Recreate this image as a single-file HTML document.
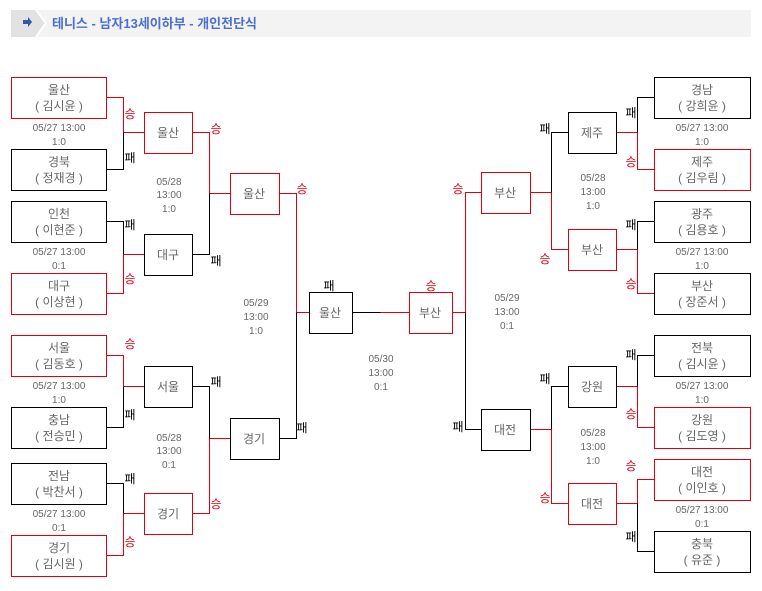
<!DOCTYPE html>
<html><head><meta charset="utf-8"><style>
body{margin:0;background:#fff;width:762px;height:586px;overflow:hidden}
svg text{font-family:"Liberation Sans","Noto Sans CJK KR",sans-serif}
</style></head><body>
<svg width="762" height="586" xmlns="http://www.w3.org/2000/svg">
<rect x="11" y="10" width="740" height="27" fill="#f3f3f3"/>
<path d="M11 10 H36 L46 23 L36 37 H11 Z" fill="#e2e2e2"/>
<path d="M36 10 L46 23 L36 37" fill="none" stroke="#fff" stroke-width="2"/>
<path d="M23 20 h5 v-3 l4 5 l-4 5 v-3 h-5z" fill="#3355aa"/>
<text x="52" y="28" font-size="13" font-weight="bold" fill="#4a6fd0">테니스 - 남자13세이하부 - 개인전단식</text>

<g transform="translate(0.5,0.5)" shape-rendering="crispEdges">
<g fill="none" stroke-width="1">
<g stroke="#e00010">
<polyline points="106,97 123,97 123,132 144,132"/>
<polyline points="106,293 123,293 123,254 144,254"/>
<polyline points="106,355 123,355 123,386 144,386"/>
<polyline points="106,555 123,555 123,513 144,513"/>
<polyline points="192,132 209,132 209,193 230,193"/>
<polyline points="192,513 209,513 209,438 230,438"/>
<polyline points="279,193 296,193 296,312 309,312"/>
<polyline points="654,169 637,169 637,132 616,132"/>
<polyline points="654,293 637,293 637,249 616,249"/>
<polyline points="654,427 637,427 637,386 616,386"/>
<polyline points="654,479 637,479 637,503 616,503"/>
<polyline points="568,249 551,249 551,192 530,192"/>
<polyline points="568,503 551,503 551,429 530,429"/>
<polyline points="481,192 465,192 465,312 452,312"/>
<line x1="380" y1="312" x2="409" y2="312"/>
</g>
<g stroke="#000">
<polyline points="106,169 123,169 123,132"/>
<polyline points="106,221 123,221 123,254"/>
<polyline points="106,427 123,427 123,386"/>
<polyline points="106,483 123,483 123,513"/>
<polyline points="192,254 209,254 209,193"/>
<polyline points="192,386 209,386 209,438"/>
<polyline points="279,438 296,438 296,312"/>
<polyline points="654,97 637,97 637,132"/>
<polyline points="654,221 637,221 637,249"/>
<polyline points="654,355 637,355 637,386"/>
<polyline points="654,551 637,551 637,503"/>
<polyline points="568,132 551,132 551,192"/>
<polyline points="568,386 551,386 551,429"/>
<polyline points="481,429 465,429 465,312"/>
<line x1="352" y1="312" x2="380" y2="312"/>
</g>
</g>

<g stroke-width="1" fill="#fff">
<rect x="11" y="77" width="95" height="41" stroke="#e00010"/>
<rect x="11" y="149" width="95" height="41" stroke="#000"/>
<rect x="11" y="201" width="95" height="41" stroke="#000"/>
<rect x="11" y="273" width="95" height="41" stroke="#e00010"/>
<rect x="11" y="335" width="95" height="41" stroke="#e00010"/>
<rect x="11" y="407" width="95" height="41" stroke="#000"/>
<rect x="11" y="463" width="95" height="41" stroke="#000"/>
<rect x="11" y="535" width="95" height="41" stroke="#e00010"/>
<rect x="144" y="112" width="48" height="41" stroke="#e00010"/>
<rect x="144" y="234" width="48" height="41" stroke="#000"/>
<rect x="144" y="366" width="48" height="41" stroke="#000"/>
<rect x="144" y="493" width="48" height="41" stroke="#e00010"/>
<rect x="230" y="173" width="49" height="41" stroke="#e00010"/>
<rect x="230" y="418" width="49" height="41" stroke="#000"/>
<rect x="309" y="292" width="43" height="41" stroke="#000"/>
<rect x="409" y="292" width="43" height="41" stroke="#e00010"/>
<rect x="481" y="172" width="49" height="41" stroke="#e00010"/>
<rect x="481" y="409" width="49" height="41" stroke="#000"/>
<rect x="568" y="112" width="48" height="41" stroke="#000"/>
<rect x="568" y="229" width="48" height="41" stroke="#e00010"/>
<rect x="568" y="366" width="48" height="41" stroke="#000"/>
<rect x="568" y="483" width="48" height="41" stroke="#e00010"/>
<rect x="654" y="77" width="96" height="41" stroke="#000"/>
<rect x="654" y="149" width="96" height="41" stroke="#e00010"/>
<rect x="654" y="201" width="96" height="41" stroke="#000"/>
<rect x="654" y="273" width="96" height="41" stroke="#000"/>
<rect x="654" y="335" width="96" height="41" stroke="#000"/>
<rect x="654" y="407" width="96" height="41" stroke="#e00010"/>
<rect x="654" y="459" width="96" height="41" stroke="#e00010"/>
<rect x="654" y="531" width="96" height="41" stroke="#000"/>
</g>
</g>

<g font-size="12" fill="#666" text-anchor="middle">
<text x="59" y="94">울산</text><text x="59" y="110">( 김시윤 )</text>
<text x="59" y="166">경북</text><text x="59" y="182">( 정재경 )</text>
<text x="59" y="218">인천</text><text x="59" y="234">( 이현준 )</text>
<text x="59" y="290">대구</text><text x="59" y="306">( 이상현 )</text>
<text x="59" y="352">서울</text><text x="59" y="368">( 김동호 )</text>
<text x="59" y="424">충남</text><text x="59" y="440">( 전승민 )</text>
<text x="59" y="480">전남</text><text x="59" y="496">( 박찬서 )</text>
<text x="59" y="552">경기</text><text x="59" y="568">( 김시원 )</text>
<text x="702" y="94">경남</text><text x="702" y="110">( 강희윤 )</text>
<text x="702" y="166">제주</text><text x="702" y="182">( 김우림 )</text>
<text x="702" y="218">광주</text><text x="702" y="234">( 김용호 )</text>
<text x="702" y="290">부산</text><text x="702" y="306">( 장준서 )</text>
<text x="702" y="352">전북</text><text x="702" y="368">( 김시윤 )</text>
<text x="702" y="424">강원</text><text x="702" y="440">( 김도영 )</text>
<text x="702" y="476">대전</text><text x="702" y="492">( 이인호 )</text>
<text x="702" y="548">충북</text><text x="702" y="564">( 유준 )</text>
<text x="168" y="137">울산</text><text x="168" y="259">대구</text>
<text x="168" y="391">서울</text><text x="168" y="518">경기</text>
<text x="254" y="198">울산</text><text x="254" y="443">경기</text>
<text x="330" y="317">울산</text><text x="430" y="317">부산</text>
<text x="505" y="197">부산</text><text x="505" y="434">대전</text>
<text x="592" y="137">제주</text><text x="592" y="254">부산</text>
<text x="592" y="391">강원</text><text x="592" y="508">대전</text>
</g>

<g font-size="10" fill="#666" text-anchor="middle">
<text x="59" y="131">05/27  13:00</text><text x="59" y="145">1:0</text>
<text x="59" y="255">05/27  13:00</text><text x="59" y="269">0:1</text>
<text x="59" y="389">05/27  13:00</text><text x="59" y="403">1:0</text>
<text x="59" y="517">05/27  13:00</text><text x="59" y="531">0:1</text>
<text x="702" y="131">05/27  13:00</text><text x="702" y="145">1:0</text>
<text x="702" y="255">05/27  13:00</text><text x="702" y="269">1:0</text>
<text x="702" y="389">05/27  13:00</text><text x="702" y="403">1:0</text>
<text x="702" y="513">05/27  13:00</text><text x="702" y="527">0:1</text>
<text x="169" y="185">05/28</text><text x="169" y="198">13:00</text><text x="169" y="212">1:0</text>
<text x="169" y="441">05/28</text><text x="169" y="454">13:00</text><text x="169" y="468">0:1</text>
<text x="256" y="306">05/29</text><text x="256" y="320">13:00</text><text x="256" y="334">1:0</text>
<text x="381" y="362">05/30</text><text x="381" y="376">13:00</text><text x="381" y="390">0:1</text>
<text x="507" y="301">05/29</text><text x="507" y="315">13:00</text><text x="507" y="329">0:1</text>
<text x="593" y="181">05/28</text><text x="593" y="195">13:00</text><text x="593" y="209">1:0</text>
<text x="593" y="436">05/28</text><text x="593" y="450">13:00</text><text x="593" y="464">1:0</text>
</g>

<g font-size="12" text-anchor="middle">
<g fill="#e00010">
<text x="130" y="118">승</text><text x="130" y="283">승</text><text x="130" y="348">승</text><text x="130" y="546">승</text>
<text x="216" y="133">승</text><text x="216" y="508">승</text><text x="302" y="193">승</text>
<text x="431" y="290">승</text><text x="458" y="193">승</text>
<text x="545" y="263">승</text><text x="545" y="502">승</text>
<text x="631" y="166">승</text><text x="631" y="288">승</text><text x="631" y="418">승</text><text x="631" y="470">승</text>
</g>
<g fill="#000">
<text x="130" y="162">패</text><text x="130" y="229">패</text><text x="130" y="419">패</text><text x="130" y="483">패</text>
<text x="216" y="265">패</text><text x="216" y="386">패</text><text x="302" y="432">패</text>
<text x="329" y="290">패</text><text x="458" y="431">패</text>
<text x="545" y="133">패</text><text x="545" y="383">패</text>
<text x="631" y="117">패</text><text x="631" y="229">패</text><text x="631" y="359">패</text><text x="631" y="541">패</text>
</g>
</g>
</svg>
</body></html>
